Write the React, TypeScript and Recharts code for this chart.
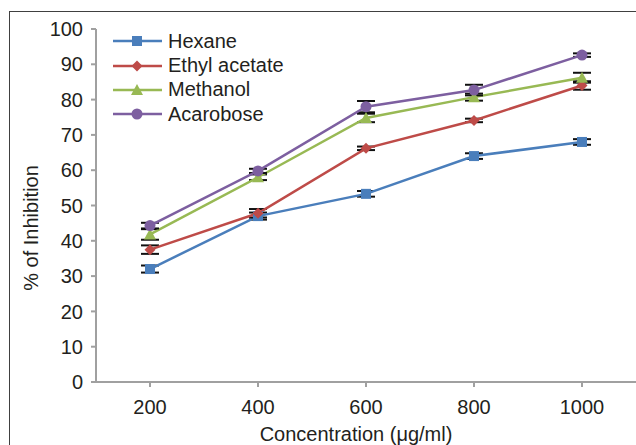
import React from 'react';
import { LineChart, Line, XAxis, YAxis, Legend, ErrorBar, Label } from 'recharts';

const concentrations = [200, 400, 600, 800, 1000];
const hexane = [32, 47, 53.3, 64, 68];
const hexaneErr = [1, 1, 0.8, 0.8, 0.8];
const ethyl = [37.5, 47.8, 66.2, 74.1, 84];
const ethylErr = [1.2, 1.2, 0.5, 0.5, 1.2];
const methanol = [41.8, 58, 74.8, 80.7, 86.2];
const methanolErr = [1.5, 0.8, 1.2, 1, 1.4];
const acarbose = [44.3, 59.8, 78, 82.7, 92.6];
const acarboseErr = [0.8, 0.6, 1.6, 1.5, 0.5];
const yTicks = [0, 10, 20, 30, 40, 50, 60, 70, 80, 90, 100];

const series = [
  { key: 'hexane', name: 'Hexane', color: '#4a7ebb', shape: 'square' },
  { key: 'ethyl', name: 'Ethyl acetate', color: '#be4b48', shape: 'diamond' },
  { key: 'methanol', name: 'Methanol', color: '#98b954', shape: 'triangle' },
  { key: 'acarbose', name: 'Acarobose', color: '#7d5fa0', shape: 'circle' },
];

const data = concentrations.map((c, i) => ({
  conc: c,
  hexane: hexane[i],
  hexaneErr: hexaneErr[i],
  ethyl: ethyl[i],
  ethylErr: ethylErr[i],
  methanol: methanol[i],
  methanolErr: methanolErr[i],
  acarbose: acarbose[i],
  acarboseErr: acarboseErr[i],
}));

const font = '"Liberation Sans", Arial, sans-serif';
const textColor = '#231f20';
const axisColor = '#a0a0a0';

function Marker({ shape, cx, cy, color }: { shape: string; cx: number; cy: number; color: string }) {
  if (shape === 'square') return <rect x={cx - 5} y={cy - 5} width={10} height={10} fill={color} />;
  if (shape === 'diamond')
    return <polygon points={`${cx},${cy - 5.5} ${cx + 5.5},${cy} ${cx},${cy + 5.5} ${cx - 5.5},${cy}`} fill={color} />;
  if (shape === 'triangle')
    return <polygon points={`${cx},${cy - 6} ${cx + 6},${cy + 5} ${cx - 6},${cy + 5}`} fill={color} />;
  return <circle cx={cx} cy={cy} r={5.5} fill={color} />;
}

function renderLegend() {
  return (
    <div style={{ fontFamily: font, fontSize: 20, color: textColor }}>
      {series.map((s) => (
        <div key={s.key} style={{ display: 'flex', alignItems: 'center', height: 24.4 }}>
          <svg width={50} height={24} style={{ marginRight: 5 }}>
            <line x1={0} y1={12} x2={49} y2={12} stroke={s.color} strokeWidth={2.5} />
            <Marker shape={s.shape} cx={24} cy={12} color={s.color} />
          </svg>
          <span>{s.name}</span>
        </div>
      ))}
    </div>
  );
}

function XTitle(props: any) {
  const { viewBox } = props;
  return (
    <text
      x={viewBox.x + viewBox.width / 2 - 10}
      y={viewBox.y + viewBox.height + 9}
      textAnchor="middle"
      fontFamily={font}
      fontSize={20}
      fill={textColor}
    >
      Concentration (μg/ml)
    </text>
  );
}

function YTitle(props: any) {
  const { viewBox } = props;
  const x = viewBox.x + 31;
  const y = viewBox.y + 199;
  return (
    <text
      x={x}
      y={y}
      transform={`rotate(-90 ${x} ${y})`}
      textAnchor="middle"
      dominantBaseline="central"
      fontFamily={font}
      fontSize={20}
      fill={textColor}
    >
      % of Inhibition
    </text>
  );
}

export default function App() {
  const tickStyle = { fontFamily: font, fontSize: 20, fill: textColor };
  return (
    <div style={{ position: 'fixed', left: 0, top: 0, width: 636, height: 445, overflow: 'hidden', background: '#fff' }}>
      <div
        style={{
          position: 'absolute',
          left: 9,
          top: 11,
          width: 700,
          height: 500,
          border: '1px solid #404040',
        }}
      />
      <div style={{ position: 'absolute', left: 0, top: 0 }}>
        <LineChart width={660} height={460} data={data} margin={{ top: 29, right: 24, bottom: 28, left: 0 }}>
          <XAxis
            dataKey="conc"
            type="number"
            domain={[100, 1100]}
            ticks={concentrations}
            height={50}
            stroke={axisColor}
            strokeWidth={2}
            tickSize={5}
            tickMargin={13}
            tick={tickStyle}
            tickLine={{ stroke: axisColor, strokeWidth: 2 }}
          >
            <Label content={<XTitle />} />
          </XAxis>
          <YAxis
            type="number"
            domain={[0, 100]}
            ticks={yTicks}
            width={96}
            stroke={axisColor}
            strokeWidth={2}
            tickSize={5}
            tickMargin={8}
            tick={tickStyle}
            tickLine={{ stroke: axisColor, strokeWidth: 2 }}
          >
            <Label content={<YTitle />} />
          </YAxis>
          <Legend
            layout="vertical"
            align="center"
            verticalAlign="middle"
            content={renderLegend}
            wrapperStyle={{ position: 'absolute', left: 113, top: 29, width: 220 }}
          />
          {series.map((s) => (
            <Line
              key={s.key}
              dataKey={s.key}
              name={s.name}
              stroke={s.color}
              strokeWidth={2.5}
              isAnimationActive={false}
              dot={(p: any) => <Marker key={`${s.key}-${p.index}`} shape={s.shape} cx={p.cx} cy={p.cy} color={s.color} />}
              activeDot={false}
            >
              <ErrorBar dataKey={`${s.key}Err`} direction="y" width={9} stroke="#111" strokeWidth={2} />
            </Line>
          ))}
        </LineChart>
      </div>
    </div>
  );
}
